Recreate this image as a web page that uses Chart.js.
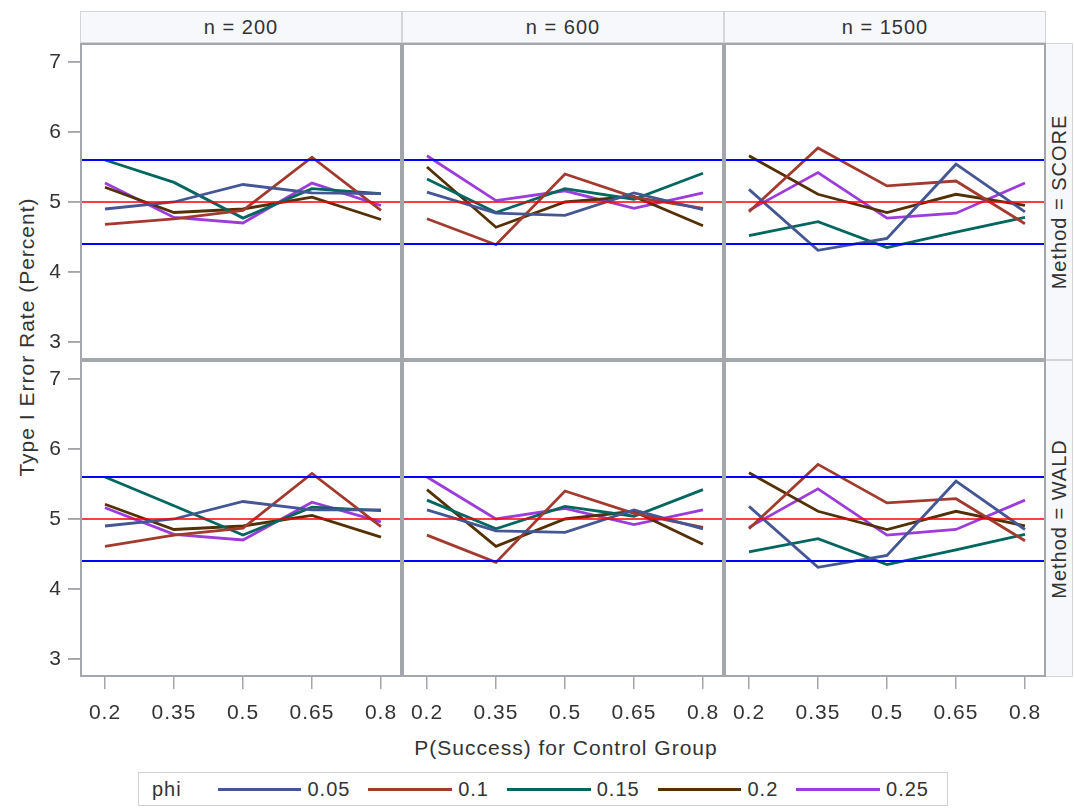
<!DOCTYPE html>
<html>
<head>
<meta charset="utf-8">
<title>Type I Error Rate by Method and Sample Size</title>
<script src="https://cdn.jsdelivr.net/npm/chart.js@4.4.1/dist/chart.umd.min.js"></script>
<style>
  html, body { margin: 0; padding: 0; background: #fff; }
  body { width: 1074px; height: 808px; position: relative; overflow: hidden;
         font-family: "Liberation Sans", Arial, sans-serif; color: #333; letter-spacing: 1px; }
  canvas { position: absolute; }
  .hdr { position: absolute; top: 11px; height: 32px; background: #f7f8fc;
         border: 1px solid #d3d5d9; box-sizing: border-box; font-size: 20px;
         display: flex; align-items: center; justify-content: center; }
  .strip { position: absolute; left: 1046px; width: 27px; background: #f7f8fc;
           border: 1px solid #d3d5d9; border-left: none; box-sizing: border-box; }
  .strip span { position: absolute; left: 50%; top: 50%; white-space: nowrap; font-size: 20px;
                transform: translate(-50%, -50%) rotate(-90deg); }
  .ytitle { position: absolute; left: 27px; top: 337px; white-space: nowrap; font-size: 21px;
            transform: translate(-50%, -50%) rotate(-90deg); }
  .xtitle { position: absolute; left: 566px; top: 748px; white-space: nowrap; font-size: 21px;
            transform: translate(-50%, -50%); }
  #legend { position: absolute; left: 138px; top: 772px; width: 810px; height: 34px;
            border: 1px solid #cfd1d4; box-sizing: border-box; display: flex; align-items: center;
            font-size: 20px; }
  #legend .ttl { margin-left: 13px; margin-right: 36px; }
  #legend .sw { width: 87px; height: 3px; margin-right: 6px; }
  #legend .lb { margin-right: 18px; }
</style>
</head>
<body>
<div class="ytitle">Type I Error Rate (Percent)</div>
<div class="xtitle">P(Success) for Control Group</div>
<div id="legend"></div>

<script>
// ---- data ----
const xValues = [0.2, 0.35, 0.5, 0.65, 0.8];
const xTickLabels = ['0.2', '0.35', '0.5', '0.65', '0.8'];
const yTicks = [3, 4, 5, 6, 7];
const sampleSizes = ['n = 200', 'n = 600', 'n = 1500'];
const methods = ['Method = SCORE', 'Method = WALD'];
const phiLabels = ['0.05', '0.1', '0.15', '0.2', '0.25'];
const phiColors = ['#445694', '#A23A2E', '#01665E', '#543005', '#9D3CDB'];
const refLevels = [4.4, 5, 5.6];
const refColors = ['#0000FF', '#FF0000', '#0000FF'];

// rows: phi = 0.05, 0.1, 0.15, 0.2, 0.25 ; columns: xValues
const scoreN200 = [
  [4.90, 5.00, 5.25, 5.13, 5.12],
  [4.68, 4.76, 4.88, 5.64, 4.88],
  [5.60, 5.28, 4.77, 5.19, 5.12],
  [5.21, 4.85, 4.90, 5.07, 4.75],
  [5.27, 4.78, 4.70, 5.27, 4.95]
];
const scoreN600 = [
  [5.14, 4.84, 4.81, 5.13, 4.89],
  [4.76, 4.39, 5.40, 5.07, 4.91],
  [5.33, 4.85, 5.19, 5.04, 5.41],
  [5.50, 4.64, 5.00, 5.08, 4.66],
  [5.66, 5.02, 5.16, 4.91, 5.13]
];
const scoreN1500 = [
  [5.18, 4.31, 4.48, 5.54, 4.86],
  [4.86, 5.77, 5.23, 5.30, 4.69],
  [4.52, 4.72, 4.35, 4.57, 4.78],
  [5.66, 5.11, 4.85, 5.11, 4.95],
  [4.88, 5.42, 4.77, 4.84, 5.27]
];
const waldN200 = [
  [4.90, 5.00, 5.25, 5.13, 5.13],
  [4.61, 4.77, 4.87, 5.65, 4.89],
  [5.60, 5.19, 4.77, 5.17, 5.12],
  [5.21, 4.85, 4.90, 5.05, 4.74],
  [5.16, 4.78, 4.70, 5.24, 4.96]
];
const waldN600 = [
  [5.13, 4.83, 4.81, 5.13, 4.86],
  [4.77, 4.38, 5.40, 5.08, 4.88],
  [5.27, 4.86, 5.18, 5.04, 5.42],
  [5.42, 4.61, 5.00, 5.11, 4.64],
  [5.60, 5.00, 5.15, 4.92, 5.13]
];
const waldN1500 = [
  [5.18, 4.31, 4.48, 5.54, 4.85],
  [4.86, 5.78, 5.23, 5.29, 4.69],
  [4.53, 4.72, 4.35, 4.56, 4.78],
  [5.66, 5.11, 4.85, 5.11, 4.90],
  [4.88, 5.43, 4.77, 4.85, 5.27]
];

const panelData = [
  [scoreN200, scoreN600, scoreN1500],
  [waldN200, waldN600, waldN1500]
];

// ---- layout ----
const colLeft = [80, 402, 724];
const rowTop = [43, 360];
const panelW = 322, panelH = 317;
const yAxisW = 40, xAxisH = 50;
const xMin = 0.1457, xMax = 0.8457;
const yMin = 2.743, yMax = 7.271;
const textColor = '#333';
const axisGray = '#a3a6aa';
const tickFont = { family: '"Liberation Sans", Arial, sans-serif', size: 21 };

// column headers and row strips
sampleSizes.forEach((s, c) => {
  const d = document.createElement('div');
  d.className = 'hdr';
  d.style.left = colLeft[c] + 'px';
  d.style.width = panelW + 'px';
  d.textContent = s;
  document.body.appendChild(d);
});
methods.forEach((m, r) => {
  const d = document.createElement('div');
  d.className = 'strip';
  d.style.top = rowTop[r] + 'px';
  d.style.height = panelH + 'px';
  const sp = document.createElement('span');
  sp.textContent = m;
  d.appendChild(sp);
  document.body.appendChild(d);
});

// legend
const legend = document.getElementById('legend');
const lt = document.createElement('span');
lt.className = 'ttl'; lt.textContent = 'phi';
legend.appendChild(lt);
phiLabels.forEach((p, i) => {
  const sw = document.createElement('span');
  sw.className = 'sw'; sw.style.background = phiColors[i];
  const lb = document.createElement('span');
  lb.className = 'lb'; lb.textContent = p;
  legend.appendChild(sw); legend.appendChild(lb);
});

// reference lines, left tick marks and panel frame
const panelDecor = {
  id: 'panelDecor',
  afterDatasetsDraw(chart) {
    const { ctx, chartArea: a, scales } = chart;
    ctx.save();
    refLevels.forEach((v, i) => {
      const y = scales.y.getPixelForValue(v);
      ctx.strokeStyle = refColors[i];
      ctx.lineWidth = i === 1 ? 1.6 : 1.8;
      ctx.beginPath();
      ctx.moveTo(a.left, y);
      ctx.lineTo(a.right, y);
      ctx.stroke();
    });
    if (scales.y.options.display) {
      ctx.strokeStyle = axisGray;
      ctx.lineWidth = 1.5;
      yTicks.forEach(v => {
        const y = scales.y.getPixelForValue(v);
        ctx.beginPath();
        ctx.moveTo(a.left - 12, y);
        ctx.lineTo(a.left, y);
        ctx.stroke();
      });
    }
    ctx.strokeStyle = axisGray;
    ctx.lineWidth = 2;
    ctx.strokeRect(a.left + 1, a.top + 1, a.right - a.left - 2, a.bottom - a.top - 2);
    ctx.restore();
  }
};

for (let r = 0; r < 2; r++) {
  for (let c = 0; c < 3; c++) {
    const showY = c === 0;
    const showX = r === 1;
    const cv = document.createElement('canvas');
    const left = colLeft[c] - (showY ? yAxisW : 0);
    const w = panelW + (showY ? yAxisW : 0);
    const h = panelH + (showX ? xAxisH : 0);
    cv.width = w; cv.height = h;
    cv.style.left = left + 'px';
    cv.style.top = rowTop[r] + 'px';
    cv.style.width = w + 'px';
    cv.style.height = h + 'px';
    document.body.appendChild(cv);

    const datasets = panelData[r][c].map((vals, i) => ({
      label: phiLabels[i],
      data: vals.map((v, k) => ({ x: xValues[k], y: v })),
      borderColor: phiColors[i],
      backgroundColor: phiColors[i],
      borderWidth: 2.8,
      pointRadius: 0,
      tension: 0,
      fill: false
    }));

    new Chart(cv, {
      type: 'line',
      data: { datasets },
      options: {
        responsive: false,
        animation: false,
        devicePixelRatio: 1,
        layout: { padding: 0, autoPadding: false },
        plugins: { legend: { display: false }, tooltip: { enabled: false } },
        scales: {
          x: {
            type: 'linear', min: xMin, max: xMax, display: showX,
            afterBuildTicks: s => { s.ticks = xValues.map(v => ({ value: v })); },
            afterFit: s => {
              if (showX) s.height = xAxisH;
              s.paddingLeft = 0; s.paddingRight = 0;
            },
            grid: { drawOnChartArea: false, drawTicks: true, tickLength: 12, color: axisGray, lineWidth: 1.5 },
            border: { display: false },
            ticks: { autoSkip: false, maxRotation: 0, padding: 12, color: textColor, font: tickFont,
                     callback: (v, i) => xTickLabels[i] }
          },
          y: {
            type: 'linear', min: yMin, max: yMax, display: showY,
            afterBuildTicks: s => { s.ticks = yTicks.map(v => ({ value: v })); },
            afterFit: s => {
              if (showY) s.width = yAxisW;
              s.paddingTop = 0; s.paddingBottom = 0;
            },
            grid: { drawOnChartArea: false, drawTicks: true, tickLength: 12, color: axisGray, lineWidth: 1.5 },
            border: { display: false },
            ticks: { autoSkip: false, padding: 6, color: textColor, font: tickFont,
                     callback: (v, i) => String(yTicks[i]) }
          }
        }
      },
      plugins: [panelDecor]
    });
  }
}
</script>
</body>
</html>
